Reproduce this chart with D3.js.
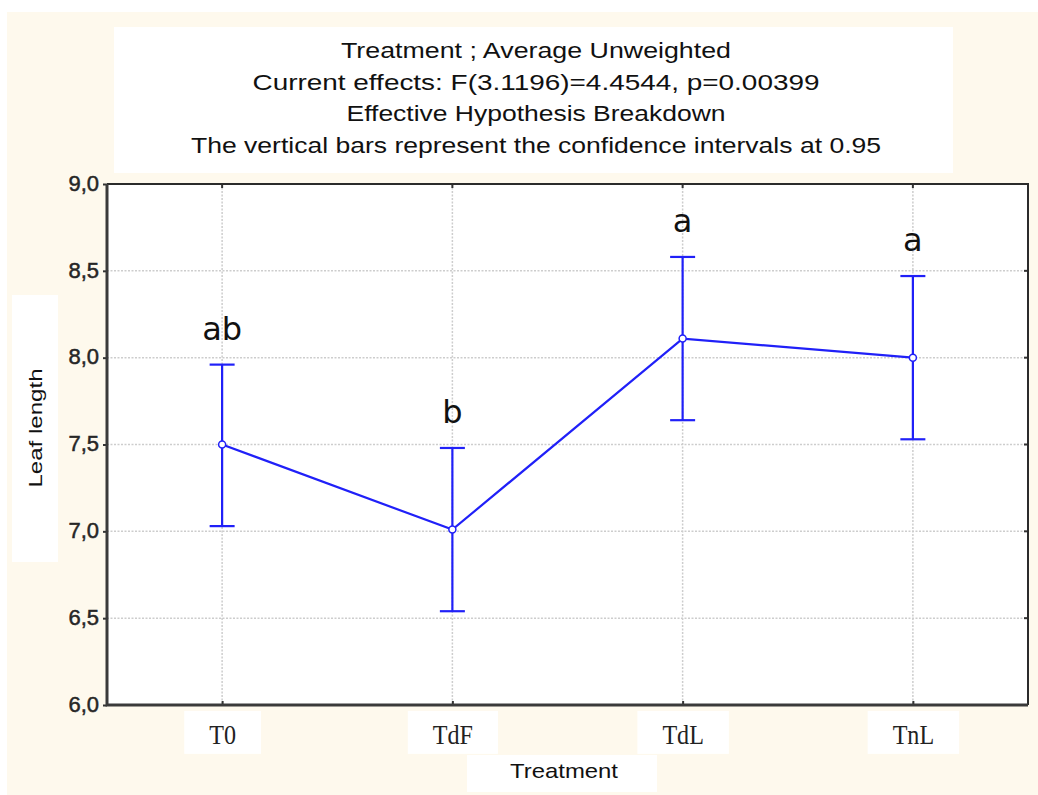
<!DOCTYPE html>
<html>
<head>
<meta charset="utf-8">
<script src="https://cdn.jsdelivr.net/npm/d3@7"></script>
<style>
  html, body { margin: 0; padding: 0; background: #fff; }
  svg { display: block; }
</style>
</head>
<body>
<svg id="chart" width="1038" height="795"></svg>
<script>
// data
var categories = ['T0', 'TdF', 'TdL', 'TnL'];
var means = [7.50, 7.01, 8.11, 8.00];
var ciLow = [7.03, 6.54, 7.64, 7.53];
var ciHigh = [7.96, 7.48, 8.58, 8.47];
var groupLetters = ['ab', 'b', 'a', 'a'];
var yTicks = [6.0, 6.5, 7.0, 7.5, 8.0, 8.5, 9.0];
var titleLines = [
  'Treatment ; Average Unweighted',
  'Current effects: F(3.1196)=4.4544, p=0.00399',
  'Effective Hypothesis Breakdown',
  'The vertical bars represent the confidence intervals at 0.95'
];
var titleWidths = [390, 567, 379, 690];

var W = 1038, H = 795;
var plot = {left: 107, right: 1028, top: 184, bottom: 705};
var blue = '#2020f8';
var cream = '#fef9ed';

var svg = d3.select('#chart');

// page background: cream panel with a thin white margin
svg.append('rect').attr('width', W).attr('height', H).attr('fill', '#fff');
svg.append('rect').attr('x', 7).attr('y', 12).attr('width', W - 7).attr('height', H - 12)
  .attr('fill', cream);

// title box
svg.append('rect').attr('x', 114).attr('y', 27).attr('width', 839).attr('height', 146)
  .attr('fill', '#fff');
svg.append('g').attr('class', 'title')
  .selectAll('text')
  .data(titleLines)
  .enter()
  .append('text')
  .attr('x', 536)
  .attr('y', function(d, i) { return 58 + i * 31.7; })
  .attr('text-anchor', 'middle')
  .attr('textLength', function(d, i) { return titleWidths[i]; })
  .attr('lengthAdjust', 'spacingAndGlyphs')
  .style('font-family', '"Liberation Sans", Arial, sans-serif')
  .style('font-size', '22px')
  .style('fill', '#111')
  .text(function(d) { return d; });

var x = d3.scalePoint()
  .domain(categories)
  .range([plot.left, plot.right])
  .padding(0.5);

var y = d3.scaleLinear()
  .domain([6, 9])
  .range([plot.bottom, plot.top]);

// plot area
svg.append('rect')
  .attr('x', plot.left).attr('y', plot.top)
  .attr('width', plot.right - plot.left).attr('height', plot.bottom - plot.top)
  .attr('fill', '#fff');

// dotted grid
var grid = svg.append('g').attr('class', 'grid')
  .style('stroke', '#cdcdcd')
  .style('stroke-width', 1.5)
  .style('stroke-dasharray', '2,1.5');
grid.selectAll('line.h')
  .data(yTicks.slice(1, -1))
  .enter().append('line')
  .attr('class', 'h')
  .attr('x1', plot.left).attr('x2', plot.right)
  .attr('y1', function(d) { return y(d); })
  .attr('y2', function(d) { return y(d); });
grid.selectAll('line.v')
  .data(categories)
  .enter().append('line')
  .attr('class', 'v')
  .attr('y1', plot.top).attr('y2', plot.bottom)
  .attr('x1', function(d) { return x(d); })
  .attr('x2', function(d) { return x(d); });

// y axis
var yAxis = svg.append('g')
  .attr('transform', 'translate(' + plot.left + ',0)')
  .call(d3.axisLeft(y)
    .tickValues(yTicks)
    .tickSize(4)
    .tickPadding(4)
    .tickFormat(function(d) { return d.toFixed(1).replace('.', ','); }));
yAxis.select('.domain').remove();
yAxis.selectAll('line').attr('stroke', '#333').attr('stroke-width', 2);
yAxis.selectAll('text')
  .attr('dy', '0.28em')
  .style('font-family', '"Liberation Sans", Arial, sans-serif')
  .style('font-size', '22px')
  .style('fill', '#262626')
  .style('stroke', '#262626')
  .style('stroke-width', 0.5);

// small ticks on the right side
svg.append('g').selectAll('line')
  .data(yTicks.slice(1, -1))
  .enter().append('line')
  .attr('x1', plot.right - 4).attr('x2', plot.right)
  .attr('y1', function(d) { return y(d); })
  .attr('y2', function(d) { return y(d); })
  .attr('stroke', '#333').attr('stroke-width', 2);

// small ticks on top
svg.append('g').selectAll('line')
  .data(categories)
  .enter().append('line')
  .attr('x1', function(d) { return x(d); })
  .attr('x2', function(d) { return x(d); })
  .attr('y1', plot.top).attr('y2', plot.top + 4)
  .attr('stroke', '#333').attr('stroke-width', 2);

// x axis
var xAxis = svg.append('g')
  .attr('transform', 'translate(0,' + plot.bottom + ')')
  .call(d3.axisBottom(x)
    .tickSizeInner(-4)
    .tickSizeOuter(0)
    .tickPadding(19));
xAxis.select('.domain').remove();
xAxis.selectAll('line').attr('stroke', '#333').attr('stroke-width', 2);
xAxis.selectAll('text')
  .style('font-family', '"Liberation Serif", "Times New Roman", serif')
  .style('font-size', '28px')
  .style('fill', '#222')
  .each(function() {
    // the original labels are a little narrow for their height
    var len = this.getComputedTextLength();
    d3.select(this)
      .attr('textLength', len * 0.86)
      .attr('lengthAdjust', 'spacingAndGlyphs');
  });
// white boxes behind the category labels
xAxis.selectAll('.tick').each(function() {
  var t = d3.select(this).select('text');
  var b = t.node().getBBox();
  d3.select(this).insert('rect', 'text')
    .attr('x', b.x - 25).attr('y', b.y - 8)
    .attr('width', b.width + 50).attr('height', b.height + 12)
    .attr('fill', '#fff');
});

// frame
var frame = svg.append('g').attr('fill', 'none');
frame.append('path')
  .attr('d', 'M' + plot.left + ',' + plot.top + 'H' + plot.right + 'V' + plot.bottom)
  .attr('stroke', '#2b2b2b').attr('stroke-width', 2);
frame.append('path')
  .attr('d', 'M' + plot.left + ',' + plot.top + 'V' + plot.bottom + 'H' + plot.right)
  .attr('stroke', '#3a3a3a').attr('stroke-width', 3);

// axis titles with their white boxes
svg.append('rect').attr('x', 467).attr('y', 755).attr('width', 190).attr('height', 37)
  .attr('fill', '#fff');
svg.append('text')
  .attr('x', 564).attr('y', 778)
  .attr('text-anchor', 'middle')
  .attr('textLength', 108)
  .attr('lengthAdjust', 'spacingAndGlyphs')
  .style('font-family', '"Liberation Sans", Arial, sans-serif')
  .style('font-size', '21px')
  .style('fill', '#111')
  .text('Treatment');

svg.append('rect').attr('x', 12).attr('y', 295).attr('width', 46).attr('height', 267)
  .attr('fill', '#fff');
svg.append('text')
  .attr('transform', 'translate(42,428) rotate(-90)')
  .attr('text-anchor', 'middle')
  .attr('textLength', 119)
  .attr('lengthAdjust', 'spacingAndGlyphs')
  .style('font-family', '"Liberation Sans", Arial, sans-serif')
  .style('font-size', '18px')
  .style('fill', '#111')
  .text('Leaf length');

// series
var rows = categories.map(function(c, i) {
  return {cat: c, mean: means[i], lo: ciLow[i], hi: ciHigh[i], letter: groupLetters[i]};
});

var series = svg.append('g').attr('class', 'series');

series.append('path')
  .datum(rows)
  .attr('fill', 'none')
  .attr('stroke', blue)
  .attr('stroke-width', 2.2)
  .attr('d', d3.line()
    .x(function(d) { return x(d.cat); })
    .y(function(d) { return y(d.mean); }));

var bars = series.selectAll('g.ci')
  .data(rows)
  .enter().append('g')
  .attr('class', 'ci')
  .attr('stroke', blue)
  .attr('stroke-width', 2.2);
bars.append('line')
  .attr('x1', function(d) { return x(d.cat); })
  .attr('x2', function(d) { return x(d.cat); })
  .attr('y1', function(d) { return y(d.lo); })
  .attr('y2', function(d) { return y(d.hi); });
bars.append('line')
  .attr('x1', function(d) { return x(d.cat) - 12.5; })
  .attr('x2', function(d) { return x(d.cat) + 12.5; })
  .attr('y1', function(d) { return y(d.hi); })
  .attr('y2', function(d) { return y(d.hi); });
bars.append('line')
  .attr('x1', function(d) { return x(d.cat) - 12.5; })
  .attr('x2', function(d) { return x(d.cat) + 12.5; })
  .attr('y1', function(d) { return y(d.lo); })
  .attr('y2', function(d) { return y(d.lo); });

series.selectAll('circle')
  .data(rows)
  .enter().append('circle')
  .attr('cx', function(d) { return x(d.cat); })
  .attr('cy', function(d) { return y(d.mean); })
  .attr('r', 3.5)
  .attr('fill', '#fff')
  .attr('stroke', blue)
  .attr('stroke-width', 1.5);

// group letters above the bars
series.selectAll('text.letter')
  .data(rows)
  .enter().append('text')
  .attr('class', 'letter')
  .attr('x', function(d) { return x(d.cat); })
  .attr('y', function(d) { return y(d.hi) - 25; })
  .attr('text-anchor', 'middle')
  .style('font-family', '"DejaVu Sans", Verdana, sans-serif')
  .style('font-size', '32px')
  .style('fill', '#111')
  .text(function(d) { return d.letter; });
</script>
</body>
</html>
